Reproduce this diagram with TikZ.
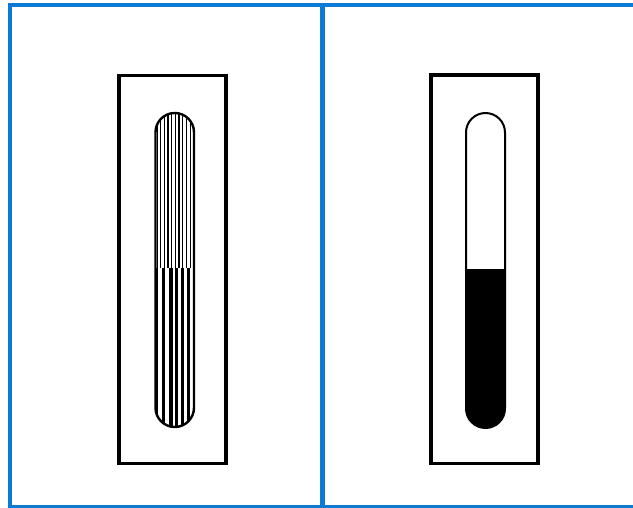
\documentclass[tikz,border=0pt]{standalone}
\definecolor{frameblue}{RGB}{10,122,212}
\begin{document}
\begin{tikzpicture}[x=1pt,y=-1pt,
  holder/.style={draw=black,line width=3.2pt},
  tubeoutline/.style={draw=black,line width=2.4pt},
  framebar/.style={draw=frameblue},
  thinstripe/.style={line width=1.3pt},
  widestripe/.style={line width=2.2pt}]
\useasboundingbox (0,0) rectangle (633,508);
\fill[white] (0,0) rectangle (633,508);
% blue frame
\draw[framebar,line width=4.5pt] (10,508) -- (10,5) -- (633,5);
\draw[framebar,line width=5pt] (322,5) -- (322,508);
\draw[framebar,line width=3pt] (10,506.5) -- (633,506.5);
% left holder
\draw[holder] (119,75.5) rectangle (226,463.5);
\begin{scope}
  \clip[rounded corners=19.25pt] (155.5,113) rectangle (194,427);
  \foreach \xx in {157.3,160.8,164.4,168.1,171.7,175.3,179.1,182.7,186.5,190.2}
    \draw[thinstripe] (\xx,100) -- (\xx,268.5);
  \draw[line width=2.6pt] (157,268.5) -- (157,440);
  \draw[line width=3pt] (163.8,268.5) -- (163.8,440);
  \draw[line width=3.6pt] (170.8,268.5) -- (170.8,440);
  \draw[line width=2.6pt] (176.5,268.5) -- (176.5,440);
  \draw[line width=2.8pt] (182.3,268.5) -- (182.3,440);
  \draw[line width=3pt] (188.3,268.5) -- (188.3,440);
\end{scope}
\draw[tubeoutline,rounded corners=19.25pt] (155.5,113) rectangle (194,427);
% right holder
\draw[holder] (431,75) rectangle (538,463.5);
\begin{scope}
  \clip[rounded corners=19.5pt] (466,113) rectangle (505,428);
  \fill[black] (460,269) rectangle (510,440);
\end{scope}
\draw[tubeoutline,line width=2pt,rounded corners=19.5pt] (466,113) rectangle (505,428);
\end{tikzpicture}
\end{document}
